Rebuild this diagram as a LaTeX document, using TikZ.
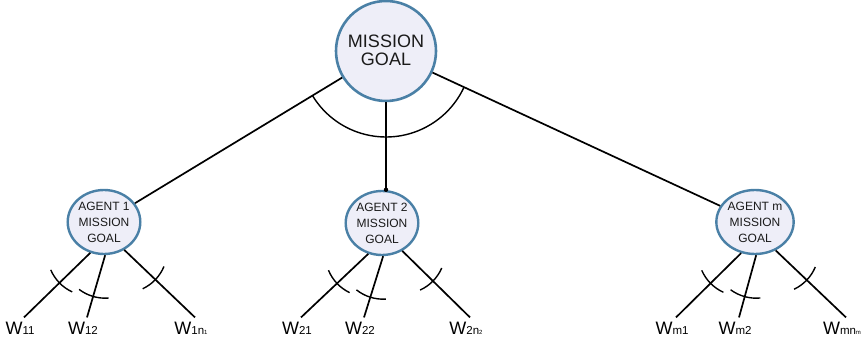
\documentclass[tikz,border=0pt]{standalone}
\usepackage{fontspec}
\setmainfont{Liberation Sans}
\usetikzlibrary{shapes.geometric,calc}
\definecolor{rimblue}{HTML}{4A80A6}
\definecolor{fillpale}{HTML}{EEEEF8}
\definecolor{inktext}{HTML}{1A1A1A}
\tikzset{
  goalnode/.style={circle,draw=rimblue,fill=fillpale,line width=2.6pt,minimum size=100pt,inner sep=0pt,align=center,text=inktext,font=\fontsize{18}{24}\selectfont},
  agentnode/.style={ellipse,draw=rimblue,fill=fillpale,line width=2.4pt,minimum width=69pt,minimum height=64pt,inner sep=0pt,align=center,text=inktext,font=\fontsize{12}{16}\selectfont},
  wlabel/.style={anchor=base,inner sep=0pt,text=black,font=\fontsize{18}{20}\selectfont},
  conn/.style={line width=1.7pt,black},
  andarc/.style={line width=1.4pt,black}
}
\newcommand{\wsub}[1]{{\fontsize{11.5}{11.5}\selectfont #1}}
\newcommand{\wtiny}[1]{{\fontsize{6}{6}\selectfont #1}}
\newcommand{\childarc}[2]{%
  \draw[andarc] let \p1=(#1), \p2=(#2), \n1={atan2(\y2-\y1,\x2-\x1)} in
    ([shift={(\n1-21:43pt)}]\x1,\y1) arc[start angle=\n1-21, end angle=\n1+21, radius=43pt];}
\begin{document}
\begin{tikzpicture}[x=1pt,y=1pt]
\useasboundingbox (0,0) rectangle (863,-344);
% main goal
\node[goalnode] (top) at (386,-51) {\raisebox{1.5pt}{\shortstack{MISSION\\[3pt]GOAL}}};
% agents
\node[agentnode] (a1) at (104,-222) {AGENT 1\\MISSION\\GOAL};
\node[agentnode] (a2) at (382,-223) {AGENT 2\\MISSION\\GOAL};
\node[agentnode] (am) at (755,-222) {AGENT m\\MISSION\\GOAL};
% top connectors
\draw[conn] (top) -- (a1);
\draw[conn] (top) -- (am);
\coordinate (a2top) at (top.south |- a2.north);
\draw[conn] (top.south) -- (a2top);
\fill (a2top) circle[radius=2.2pt];
% big AND arc
\draw[andarc] ([shift={(211.2:86pt)}]top.center) arc[start angle=211.2, end angle=335.1, radius=86pt];
% leaf labels
\node[wlabel] (w11) at (20,-335) {W\wsub{11}};
\node[wlabel] (w12) at (83,-335) {W\wsub{12}};
\node[wlabel] (w1n) at (191,-335) {W\wsub{1n}\wtiny{1}};
\node[wlabel] (w21) at (297,-335) {W\wsub{21}};
\node[wlabel] (w22) at (360,-335) {W\wsub{22}};
\node[wlabel] (w2n) at (466,-335) {W\wsub{2n}\wtiny{2}};
\node[wlabel] (wm1) at (672,-335) {W\wsub{m1}};
\node[wlabel] (wm2) at (735,-335) {W\wsub{m2}};
\node[wlabel] (wmn) at (842,-335) {W\wsub{mn}\wtiny{m}};
% leaf connectors with small arcs
\foreach \ag/\la/\lb/\lc in {a1/w11/w12/w1n, a2/w21/w22/w2n, am/wm1/wm2/wmn}{
  \coordinate (s1) at (\ag.246);
  \coordinate (s2) at (\ag.272);
  \coordinate (s3) at (\ag.306);
  \coordinate (e1) at ([shift={(4pt,5pt)}]\la.north);
  \coordinate (e2) at ([shift={(4pt,5pt)}]\lb.north);
  \coordinate (e3) at ([shift={(4pt,5pt)}]\lc.north);
  \draw[conn] (s1) -- (e1);
  \draw[conn] (s2) -- (e2);
  \draw[conn] (s3) -- (e3);
  \childarc{s1}{e1}
  \childarc{s2}{e2}
  \childarc{s3}{e3}
}
\end{tikzpicture}
\end{document}
